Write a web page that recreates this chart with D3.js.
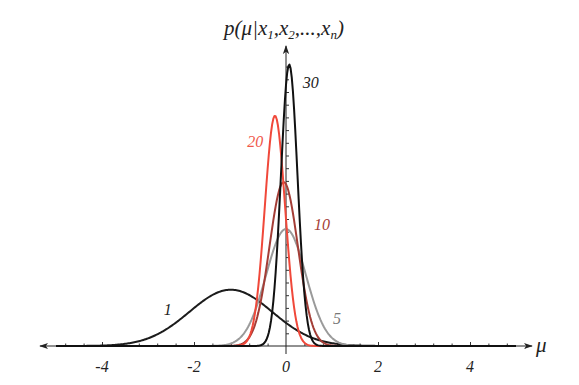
<!DOCTYPE html>
<html lang="en">
  <head>
    <meta charset="utf-8" />
    <script src="https://d3js.org/d3.v7.min.js"></script>
    <style>
      body { margin: 0; background: #fff; }
      svg text { font-family: "Liberation Serif", "Times New Roman", "DejaVu Serif", serif; font-style: italic; }
    </style>
  </head>
  <body>
    <svg id="chart" width="579" height="385"></svg>
    <script>
    // posterior curves, one per sample size
    var sampleSizes = [1, 5, 10, 20, 30];
    var means = [-1.2, 0.0, -0.05, -0.24, 0.07];
    var sds = [0.9, 0.433, 0.309, 0.22, 0.18];
    var colors = ["#1c1c1c", "#9a9a9a", "#a43d36", "#f0483a", "#111111"];
    // where each n label sits, in data units
    var labelX = [-2.57, 1.11, 0.78, -0.67, 0.54];
    var labelY = [0.28, 0.21, 0.95, 1.61, 2.07];
    var labelColors = ["#222", "#777", "#a43d36", "#f0584a", "#222"];
    var xTickLabels = [-4, -2, 0, 2, 4];

    var serif = "'Liberation Serif', 'Times New Roman', 'DejaVu Serif', serif";
    var svg = d3.select("svg");

    var x = d3.scaleLinear().domain([-5, 5]).range([56, 516]);
    var y = d3.scaleLinear().domain([0, 2.4]).range([346, 41.2]);

    // arrowhead
    svg.append("defs").append("marker")
      .attr("id", "arrow")
      .attr("viewBox", "0 0 10 10")
      .attr("refX", 9).attr("refY", 5)
      .attr("markerWidth", 9).attr("markerHeight", 9)
      .attr("markerUnits", "userSpaceOnUse")
      .attr("orient", "auto-start-reverse")
      .append("path")
        .attr("d", "M0,1.5 L10,5 L0,8.5 L2.5,5 Z")
        .attr("fill", "#222");

    // x axis line with arrows both ends
    svg.append("line")
      .attr("x1", 40).attr("x2", 532)
      .attr("y1", y(0)).attr("y2", y(0))
      .attr("stroke", "#222").attr("stroke-width", 1)
      .attr("marker-start", "url(#arrow)")
      .attr("marker-end", "url(#arrow)");

    // x minor ticks
    var xTicks = d3.range(-12, 13).map(function(i){ return i * 0.4; })
      .filter(function(v){ return Math.abs(v) > 0.01; });
    var xAxis = svg.append("g")
      .attr("transform", "translate(0," + y(0) + ")")
      .call(d3.axisTop(x).tickValues(xTicks).tickSize(3).tickFormat(""));
    xAxis.select(".domain").remove();
    xAxis.selectAll(".tick line").attr("stroke", "#333")
      .attr("y2", function(d){ return Math.abs(d % 2) < 0.01 ? -4 : -2.5; });

    // x tick labels
    svg.append("g").selectAll("text")
      .data(xTickLabels)
      .enter().append("text")
        .attr("x", function(d){ return x(d); })
        .attr("y", 372)
        .attr("text-anchor", "middle")
        .attr("font-family", serif)
        .attr("font-style", "italic")
        .attr("font-size", 16)
        .attr("fill", "#222")
        .text(function(d){ return d; });

    svg.append("text")
      .attr("x", 536).attr("y", 352)
      .attr("font-family", serif)
      .attr("font-style", "italic")
      .attr("font-size", 21)
      .attr("fill", "#222")
      .text("μ");

    // y axis
    svg.append("line")
      .attr("x1", x(0)).attr("x2", x(0))
      .attr("y1", 354).attr("y2", 46)
      .attr("stroke", "#222").attr("stroke-width", 1)
      .attr("marker-end", "url(#arrow)");

    var yTicks = d3.range(1, 23).map(function(i){ return i / 10; });
    var yAxis = svg.append("g")
      .attr("transform", "translate(" + x(0) + ",0)")
      .call(d3.axisRight(y).tickValues(yTicks).tickSize(3).tickFormat(""));
    yAxis.select(".domain").remove();
    yAxis.selectAll(".tick line").attr("stroke", "#333");

    // curves
    var xs = d3.range(0, 401).map(function(i){ return -5 + i * 0.025; });
    function density(m, s) {
      return xs.map(function(v){
        return [v, Math.exp(-0.5 * Math.pow((v - m) / s, 2)) / (s * Math.sqrt(2 * Math.PI))];
      });
    }
    var line = d3.line()
      .x(function(d){ return x(d[0]); })
      .y(function(d){ return y(d[1]); });

    svg.append("g").selectAll("path")
      .data(sampleSizes)
      .enter().append("path")
        .attr("d", function(d, i){ return line(density(means[i], sds[i])); })
        .attr("fill", "none")
        .attr("stroke", function(d, i){ return colors[i]; })
        .attr("stroke-width", 2)
        .attr("stroke-linejoin", "round");

    // n labels
    svg.append("g").selectAll("text")
      .data(sampleSizes)
      .enter().append("text")
        .attr("x", function(d, i){ return x(labelX[i]); })
        .attr("y", function(d, i){ return y(labelY[i]) + 5; })
        .attr("text-anchor", "middle")
        .attr("font-family", serif)
        .attr("font-style", "italic")
        .attr("font-size", 16)
        .attr("fill", function(d, i){ return labelColors[i]; })
        .text(function(d){ return d; });

    // title p(mu | x1, x2, ..., xn)
    var title = svg.append("text")
      .attr("x", 284).attr("y", 35)
      .attr("text-anchor", "middle")
      .attr("font-family", serif)
      .attr("font-style", "italic")
      .attr("font-size", 21)
      .attr("fill", "#222");
    title.append("tspan").text("p(μ|x");
    title.append("tspan").attr("font-size", 13).attr("dy", 4).text("1");
    title.append("tspan").attr("dy", -4).text(",x");
    title.append("tspan").attr("font-size", 13).attr("dy", 4).text("2");
    title.append("tspan").attr("dy", -4).text(",...,x");
    title.append("tspan").attr("font-size", 13).attr("dy", 4).text("n");
    title.append("tspan").attr("dy", -4).text(")");
    </script>
  </body>
</html>
